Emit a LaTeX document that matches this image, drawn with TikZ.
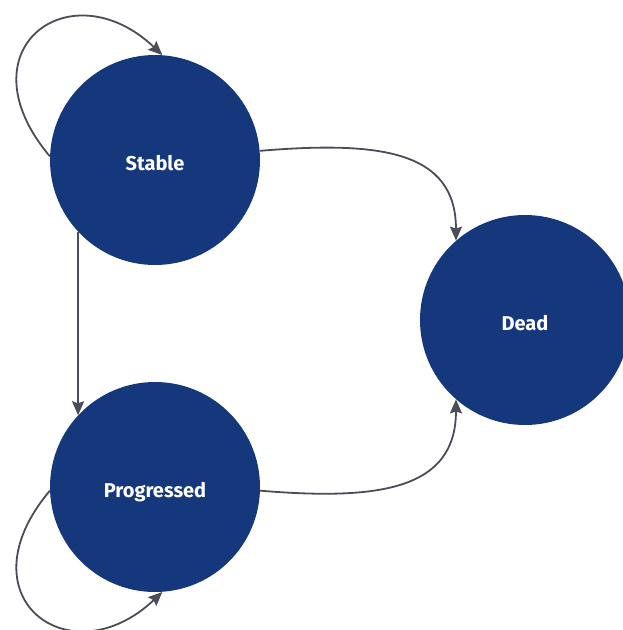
\documentclass[tikz,border=0pt]{standalone}
\usepackage{fontspec}
\setmainfont{Fira Sans}
\usepackage{xcolor}
\usetikzlibrary{arrows.meta}
\definecolor{statefill}{HTML}{15377B}
\definecolor{edgegray}{HTML}{4A4D56}
\tikzset{
    state-node/.style = {circle, fill=statefill, draw=none, minimum size=210pt, inner sep=0pt, text height=21pt, text depth=1pt, text=white, font=\bfseries\fontsize{20}{24}\selectfont},
    transition/.style = {draw=edgegray, line width=1.8pt, -{Stealth[length=14pt, width=12pt, inset=2pt]}},
}

\begin{document}
\begin{tikzpicture}[x=1pt, y=-1pt]
\useasboundingbox (0,0) rectangle (622,630);
\node [state-node] (stable) at (155,160) {Stable};
\node [state-node] (progressed) at (155,487) {Progressed};
\node [state-node] (dead) at (525,320) {Dead};

% self loops
\draw [transition] (stable.178) .. controls +(-90,-107) and +(-92,-87) .. (stable.86);
\draw [transition] (progressed.182) .. controls +(-90,107) and +(-92,87) .. (progressed.274);
% transitions between states
\draw [transition] (stable.223) -- (progressed.137);
\draw [transition] (stable.5) .. controls +(120,-10) and +(0,-90) .. (dead.131);
\draw [transition] (progressed.-2) .. controls +(120,10) and +(0,90) .. (dead.229);
\end{tikzpicture}
\end{document}
